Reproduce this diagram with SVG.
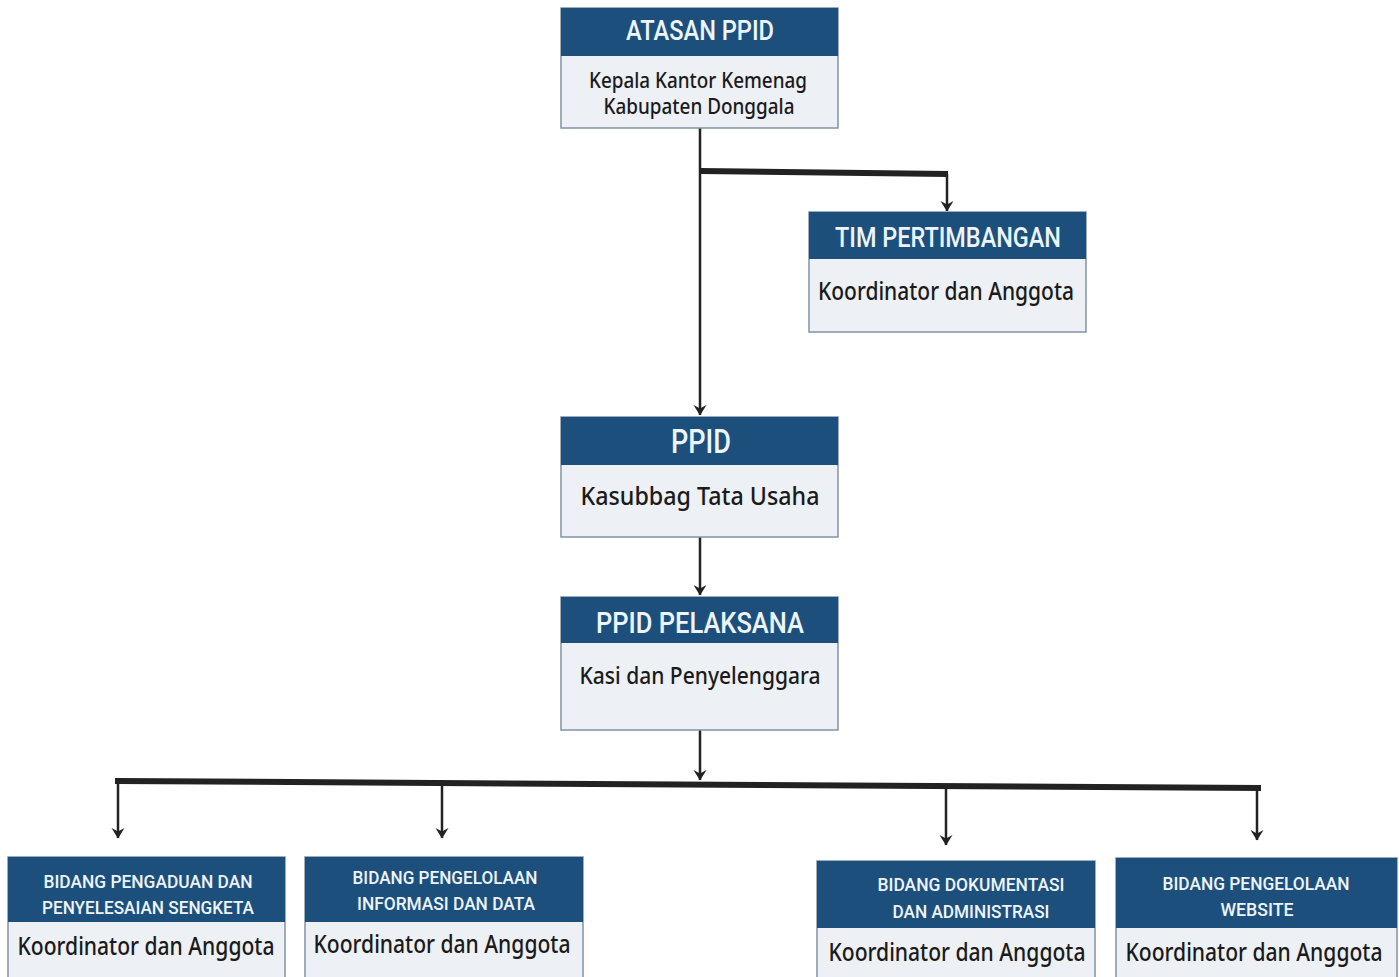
<svg xmlns="http://www.w3.org/2000/svg" width="1399" height="977" viewBox="0 0 1399 977">
<style>
.hd{fill:#1d4f7d}
.bd{fill:#edf0f4;stroke:#8193a8;stroke-width:1.5}
.ht{font-family:Roboto,"Liberation Sans",sans-serif;font-weight:500;fill:#eef5fa;text-anchor:middle}
.bt{font-family:"Noto Sans","Open Sans",sans-serif;font-weight:500;fill:#1a1a1a;text-anchor:middle}
.ln{stroke:#222;fill:none;stroke-width:2.5}
.th{stroke:#222;fill:none;stroke-width:6}
</style>
<defs>
<marker id="ad" markerWidth="14" markerHeight="12" refX="7" refY="11" markerUnits="userSpaceOnUse" viewBox="0 0 14 12">
<path d="M0.5,1 L7,11.5 L13.5,1 L7,4.5 Z" fill="#222"/>
</marker>
</defs>
<rect width="1399" height="977" fill="#ffffff"/>
<g id="connectors">
<line class="ln" x1="700" y1="128" x2="700" y2="415" marker-end="url(#ad)"/>
<path class="th" d="M700,171 L948,174" stroke-width="7"/>
<line class="ln" x1="947" y1="174" x2="947" y2="211" marker-end="url(#ad)"/>
<line class="ln" x1="700" y1="537" x2="700" y2="595" marker-end="url(#ad)"/>
<line class="ln" x1="700" y1="730" x2="700" y2="780" marker-end="url(#ad)"/>
<path class="th" d="M115,781 L1261,788"/>
<line class="ln" x1="118" y1="781" x2="118" y2="838" marker-end="url(#ad)"/>
<line class="ln" x1="442" y1="783" x2="442" y2="838" marker-end="url(#ad)"/>
<line class="ln" x1="946" y1="786" x2="946" y2="845" marker-end="url(#ad)"/>
<line class="ln" x1="1257" y1="788" x2="1257" y2="840" marker-end="url(#ad)"/>
</g>
<g id="atasan">
<rect class="bd" x="561" y="8" width="277" height="120"/>
<rect class="hd" x="561" y="8" width="277" height="48"/>
<text class="ht" x="700" y="40" font-size="27" textLength="148" lengthAdjust="spacingAndGlyphs">ATASAN PPID</text>
<text class="bt" x="698" y="88" font-size="21" textLength="218" lengthAdjust="spacingAndGlyphs">Kepala Kantor Kemenag</text>
<text class="bt" x="699" y="114" font-size="21" textLength="191" lengthAdjust="spacingAndGlyphs">Kabupaten Donggala</text>
</g>
<g id="tim">
<rect class="bd" x="809" y="212" width="277" height="120"/>
<rect class="hd" x="809" y="212" width="277" height="47"/>
<text class="ht" x="948" y="247" font-size="28" textLength="226" lengthAdjust="spacingAndGlyphs">TIM PERTIMBANGAN</text>
<text class="bt" x="946" y="300" font-size="25" textLength="256" lengthAdjust="spacingAndGlyphs">Koordinator dan Anggota</text>
</g>
<g id="ppid">
<rect class="bd" x="561" y="417" width="277" height="120"/>
<rect class="hd" x="561" y="417" width="277" height="48"/>
<text class="ht" x="701" y="453" font-size="33" textLength="60" lengthAdjust="spacingAndGlyphs">PPID</text>
<text class="bt" x="700" y="505" font-size="26" textLength="239" lengthAdjust="spacingAndGlyphs">Kasubbag Tata Usaha</text>
</g>
<g id="pelaksana">
<rect class="bd" x="561" y="597" width="277" height="133"/>
<rect class="hd" x="561" y="597" width="277" height="46"/>
<text class="ht" x="700" y="633" font-size="29" textLength="208" lengthAdjust="spacingAndGlyphs">PPID PELAKSANA</text>
<text class="bt" x="700" y="684" font-size="24" textLength="241" lengthAdjust="spacingAndGlyphs">Kasi dan Penyelenggara</text>
</g>
<g id="bidang1">
<rect class="bd" x="8" y="857" width="277" height="125"/>
<rect class="hd" x="8" y="857" width="277" height="65"/>
<text class="ht" x="148" y="888" font-size="19" textLength="209" lengthAdjust="spacingAndGlyphs">BIDANG PENGADUAN DAN</text>
<text class="ht" x="148" y="914" font-size="19" textLength="212" lengthAdjust="spacingAndGlyphs">PENYELESAIAN SENGKETA</text>
<text class="bt" x="146" y="955" font-size="25" textLength="257" lengthAdjust="spacingAndGlyphs">Koordinator dan Anggota</text>
</g>
<g id="bidang2">
<rect class="bd" x="305" y="857" width="278" height="125"/>
<rect class="hd" x="305" y="857" width="278" height="65"/>
<text class="ht" x="445" y="884" font-size="19" textLength="185" lengthAdjust="spacingAndGlyphs">BIDANG PENGELOLAAN</text>
<text class="ht" x="446" y="910" font-size="19" textLength="178" lengthAdjust="spacingAndGlyphs">INFORMASI DAN DATA</text>
<text class="bt" x="442" y="953" font-size="25" textLength="257" lengthAdjust="spacingAndGlyphs">Koordinator dan Anggota</text>
</g>
<g id="bidang3">
<rect class="bd" x="817" y="861" width="278" height="121"/>
<rect class="hd" x="817" y="861" width="278" height="67"/>
<text class="ht" x="971" y="891" font-size="19" textLength="187" lengthAdjust="spacingAndGlyphs">BIDANG DOKUMENTASI</text>
<text class="ht" x="971" y="918" font-size="19" textLength="157" lengthAdjust="spacingAndGlyphs">DAN ADMINISTRASI</text>
<text class="bt" x="957" y="961" font-size="25" textLength="257" lengthAdjust="spacingAndGlyphs">Koordinator dan Anggota</text>
</g>
<g id="bidang4">
<rect class="bd" x="1116" y="858" width="281" height="124"/>
<rect class="hd" x="1116" y="858" width="281" height="70"/>
<text class="ht" x="1256" y="890" font-size="19" textLength="187" lengthAdjust="spacingAndGlyphs">BIDANG PENGELOLAAN</text>
<text class="ht" x="1257" y="916" font-size="19" textLength="73" lengthAdjust="spacingAndGlyphs">WEBSITE</text>
<text class="bt" x="1254" y="961" font-size="25" textLength="257" lengthAdjust="spacingAndGlyphs">Koordinator dan Anggota</text>
</g>
</svg>
